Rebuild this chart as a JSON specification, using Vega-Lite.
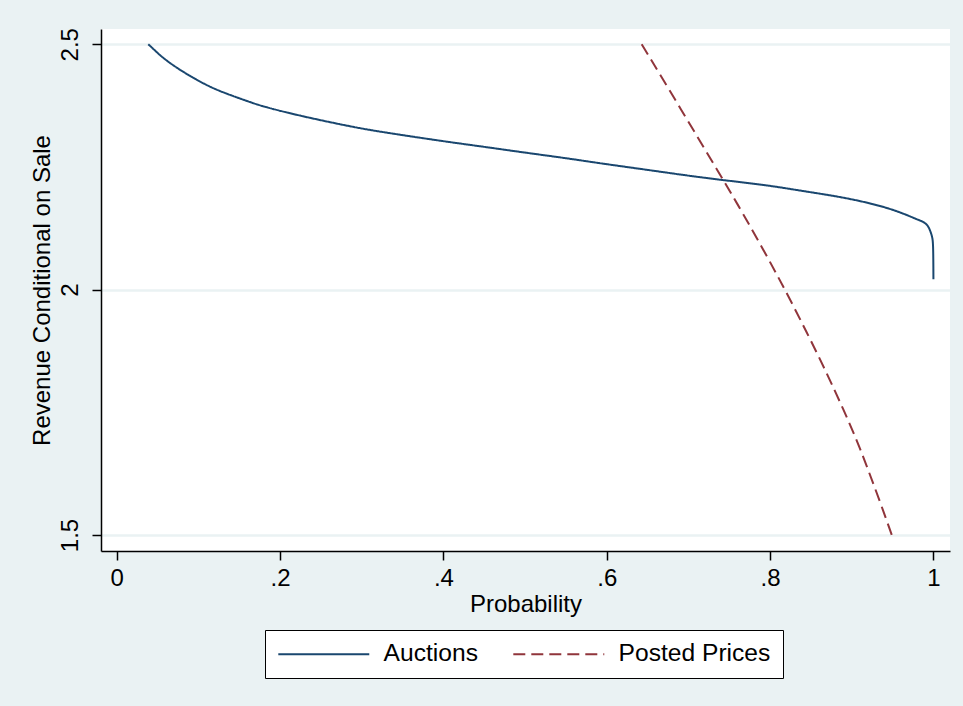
{
  "$schema": "https://vega.github.io/schema/vega-lite/v6.json",
  "width": 849,
  "height": 522,
  "autosize": {"type": "none"},
  "padding": {"left": 101, "top": 29, "right": 13, "bottom": 155},
  "background": "#EAF2F3",
  "config": {
    "view": {"fill": "white", "stroke": null},
    "font": "Liberation Sans",
    "axis": {
      "domainColor": "black",
      "domainWidth": 1.5,
      "tickColor": "black",
      "tickWidth": 1.5,
      "tickSize": 9,
      "gridColor": "#EAF2F3",
      "gridWidth": 2.5,
      "labelFont": "Liberation Sans",
      "labelFontSize": 24,
      "labelColor": "black",
      "labelOverlap": false,
      "labelFlush": false,
      "titleFont": "Liberation Sans",
      "titleFontSize": 24,
      "titleFontWeight": "normal",
      "titleColor": "black"
    },
    "legend": {
      "orient": "none",
      "legendX": 164,
      "legendY": 601,
      "direction": "horizontal",
      "strokeColor": "black",
      "fillColor": "white",
      "padding": 12,
      "symbolType": "M-1,0H7.27",
      "symbolSize": 484,
      "symbolStrokeWidth": 2,
      "labelFont": "Liberation Sans",
      "labelFontSize": 24.6,
      "labelColor": "black",
      "labelOffset": 82,
      "labelLimit": 400,
      "columnPadding": 31
    }
  },
  "data": {
    "values": [
      {"series": "Auctions", "probability": 0.0387, "revenue": 2.5},
      {"series": "Auctions", "probability": 0.047, "revenue": 2.487},
      {"series": "Auctions", "probability": 0.0571, "revenue": 2.4715},
      {"series": "Auctions", "probability": 0.075, "revenue": 2.45},
      {"series": "Auctions", "probability": 0.098, "revenue": 2.4272},
      {"series": "Auctions", "probability": 0.118, "revenue": 2.41},
      {"series": "Auctions", "probability": 0.1387, "revenue": 2.3966},
      {"series": "Auctions", "probability": 0.16, "revenue": 2.384},
      {"series": "Auctions", "probability": 0.1796, "revenue": 2.3728},
      {"series": "Auctions", "probability": 0.2204, "revenue": 2.3558},
      {"series": "Auctions", "probability": 0.2612, "revenue": 2.341},
      {"series": "Auctions", "probability": 0.3019, "revenue": 2.3273},
      {"series": "Auctions", "probability": 0.3428, "revenue": 2.3165},
      {"series": "Auctions", "probability": 0.4081, "revenue": 2.3003},
      {"series": "Auctions", "probability": 0.45, "revenue": 2.291},
      {"series": "Auctions", "probability": 0.5, "revenue": 2.279},
      {"series": "Auctions", "probability": 0.55, "revenue": 2.268},
      {"series": "Auctions", "probability": 0.5918, "revenue": 2.2573},
      {"series": "Auctions", "probability": 0.65, "revenue": 2.244},
      {"series": "Auctions", "probability": 0.7, "revenue": 2.232},
      {"series": "Auctions", "probability": 0.7428, "revenue": 2.223},
      {"series": "Auctions", "probability": 0.8, "revenue": 2.212},
      {"series": "Auctions", "probability": 0.8367, "revenue": 2.2016},
      {"series": "Auctions", "probability": 0.8855, "revenue": 2.1894},
      {"series": "Auctions", "probability": 0.9264, "revenue": 2.1746},
      {"series": "Auctions", "probability": 0.95, "revenue": 2.163},
      {"series": "Auctions", "probability": 0.9673, "revenue": 2.1522},
      {"series": "Auctions", "probability": 0.98, "revenue": 2.143},
      {"series": "Auctions", "probability": 0.9876, "revenue": 2.1385},
      {"series": "Auctions", "probability": 0.993, "revenue": 2.131},
      {"series": "Auctions", "probability": 0.9958, "revenue": 2.1215},
      {"series": "Auctions", "probability": 0.9985, "revenue": 2.108},
      {"series": "Auctions", "probability": 0.9998, "revenue": 2.0945},
      {"series": "Auctions", "probability": 1.0, "revenue": 2.0211},
      {"series": "Posted Prices", "probability": 0.6428, "revenue": 2.5},
      {"series": "Posted Prices", "probability": 0.69, "revenue": 2.37},
      {"series": "Posted Prices", "probability": 0.7428, "revenue": 2.223},
      {"series": "Posted Prices", "probability": 0.7571, "revenue": 2.183},
      {"series": "Posted Prices", "probability": 0.79, "revenue": 2.087},
      {"series": "Posted Prices", "probability": 0.8183, "revenue": 2.0},
      {"series": "Posted Prices", "probability": 0.845, "revenue": 1.913},
      {"series": "Posted Prices", "probability": 0.8694, "revenue": 1.83},
      {"series": "Posted Prices", "probability": 0.89, "revenue": 1.755},
      {"series": "Posted Prices", "probability": 0.9061, "revenue": 1.694},
      {"series": "Posted Prices", "probability": 0.92, "revenue": 1.633},
      {"series": "Posted Prices", "probability": 0.9346, "revenue": 1.568},
      {"series": "Posted Prices", "probability": 0.949, "revenue": 1.5}
    ]
  },
  "mark": {"type": "line", "strokeWidth": 2, "clip": true, "interpolate": "basis"},
  "encoding": {
    "x": {
      "field": "probability",
      "type": "quantitative",
      "scale": {"domain": [-0.0192, 1.0203], "nice": false, "zero": false},
      "axis": {
        "title": "Probability",
        "grid": false,
        "values": [0, 0.2, 0.4, 0.6, 0.8, 1],
        "labelExpr": "datum.value == 0 || datum.value == 1 ? format(datum.value, 'd') : '.' + format(round(datum.value * 10), 'd')",
        "labelPadding": 6,
        "titlePadding": 2
      }
    },
    "y": {
      "field": "revenue",
      "type": "quantitative",
      "scale": {"domain": [1.4674, 2.531], "nice": false, "zero": false},
      "axis": {
        "title": "Revenue Conditional on Sale",
        "grid": true,
        "values": [1.5, 2, 2.5],
        "labelExpr": "format(datum.value, '~g')",
        "labelAngle": -90,
        "labelAlign": "center",
        "labelBaseline": "bottom",
        "labelPadding": 10,
        "titlePadding": 4
      }
    },
    "color": {
      "field": "series",
      "type": "nominal",
      "scale": {"domain": ["Auctions", "Posted Prices"], "range": ["#1A476F", "#90353B"]},
      "legend": {"title": null}
    },
    "strokeDash": {
      "field": "series",
      "type": "nominal",
      "scale": {"domain": ["Auctions", "Posted Prices"], "range": [[1, 0], [12, 6]]},
      "legend": {"title": null}
    }
  }
}
